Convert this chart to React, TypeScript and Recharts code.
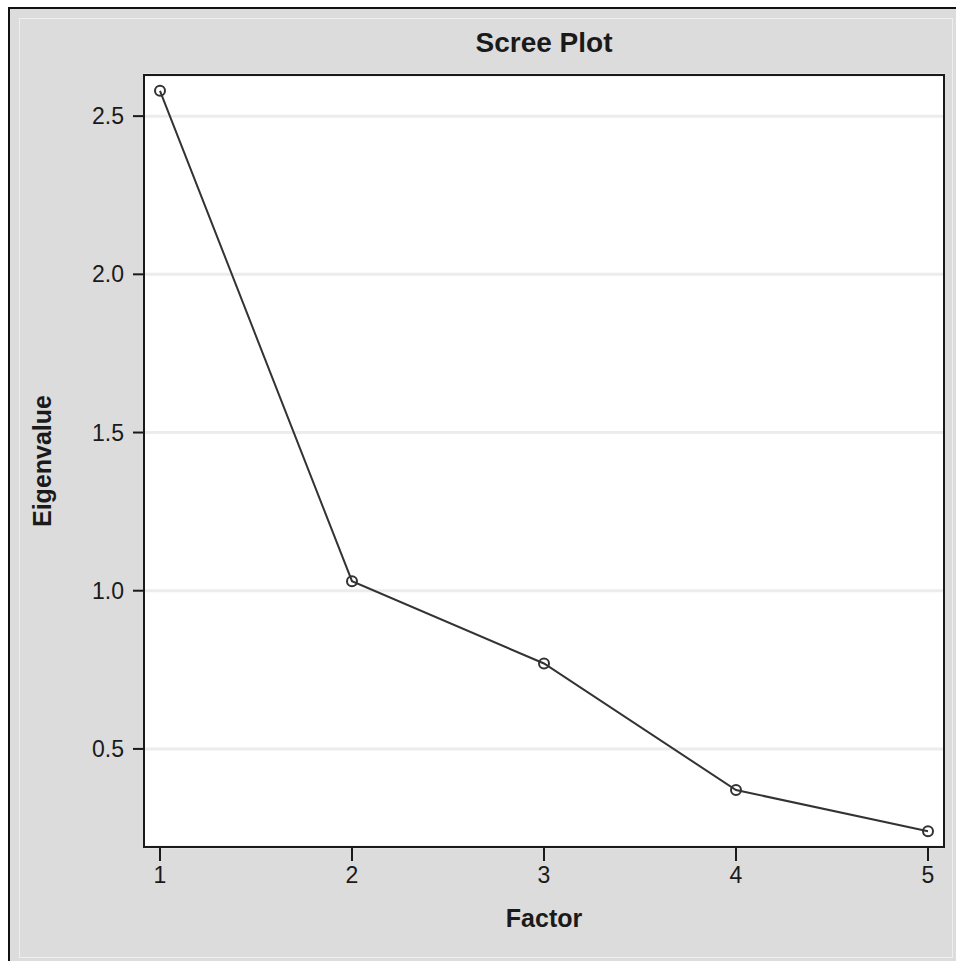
import React from "react";
import { CartesianGrid, Label, Line, LineChart, XAxis, YAxis } from "recharts";

const factors = [1, 2, 3, 4, 5];
const eigenvalues = [2.58, 1.03, 0.77, 0.37, 0.24];
const yTicks = [0.5, 1.0, 1.5, 2.0, 2.5];

const data = factors.map((f, i) => ({ factor: f, eigen: eigenvalues[i] }));

const ink = "#1a1a1a";
const font = "'Liberation Sans', Arial, sans-serif";

export default function App() {
  return (
    <div style={{ position: "absolute", left: 0, top: 0, width: 956, height: 961, background: "#fff", fontFamily: font, overflow: "hidden" }}>
      {/* outer panel */}
      <div
        style={{
          position: "absolute",
          left: 8,
          top: 7,
          width: 960,
          height: 960,
          boxSizing: "border-box",
          borderLeft: "2px solid #111",
          borderTop: "2px solid #111",
          background: "#dcdcdc",
        }}
      />
      <div
        style={{
          position: "absolute",
          left: 19,
          top: 18,
          width: 934,
          height: 940,
          boxSizing: "border-box",
          border: "1px solid #efefef",
        }}
      />
      <div
        style={{
          position: "absolute",
          left: 144,
          width: 800,
          top: 27,
          textAlign: "center",
          fontSize: 28,
          fontWeight: "bold",
          color: ink,
        }}
      >
        Scree Plot
      </div>
      <div style={{ position: "absolute", left: 0, top: 0 }}>
        <LineChart width={956} height={961} data={data} margin={{ top: 75, right: 12, bottom: 34, left: 64 }}>
          <CartesianGrid horizontal vertical={false} fill="#fff" stroke="#ececec" strokeWidth={3} />
          <XAxis
            dataKey="factor"
            type="number"
            domain={[1, 5]}
            ticks={factors}
            padding={{ left: 16, right: 16 }}
            height={80}
            axisLine={{ stroke: ink, strokeWidth: 2 }}
            tickLine={{ stroke: ink, strokeWidth: 2 }}
            tickSize={14}
            tickMargin={6}
            tick={{ fill: ink, fontSize: 23, fontFamily: font }}
          >
            <Label value="Factor" position="insideBottom" offset={0} style={{ fill: ink, fontSize: 25, fontWeight: "bold", fontFamily: font }} />
          </XAxis>
          <YAxis
            type="number"
            domain={[0.19, 2.63]}
            ticks={yTicks}
            tickFormatter={(v: number) => v.toFixed(1)}
            width={80}
            axisLine={{ stroke: ink, strokeWidth: 2 }}
            tickLine={{ stroke: ink, strokeWidth: 2 }}
            tickSize={11}
            tickMargin={9}
            tick={{ fill: ink, fontSize: 23, fontFamily: font }}
          >
            <Label value="Eigenvalue" angle={-90} position="insideLeft" offset={-22} style={{ fill: ink, fontSize: 25, fontWeight: "bold", fontFamily: font, textAnchor: "middle" }} />
          </YAxis>
          <Line
            dataKey="eigen"
            stroke="#333"
            strokeWidth={2}
            dot={{ r: 5, stroke: "#333", strokeWidth: 2, fill: "none" }}
            isAnimationActive={false}
          />
        </LineChart>
      </div>
      {/* plot frame */}
      <div
        style={{
          position: "absolute",
          left: 143,
          top: 74,
          width: 802,
          height: 774,
          boxSizing: "border-box",
          border: "2px solid #1a1a1a",
          pointerEvents: "none",
        }}
      />
    </div>
  );
}
